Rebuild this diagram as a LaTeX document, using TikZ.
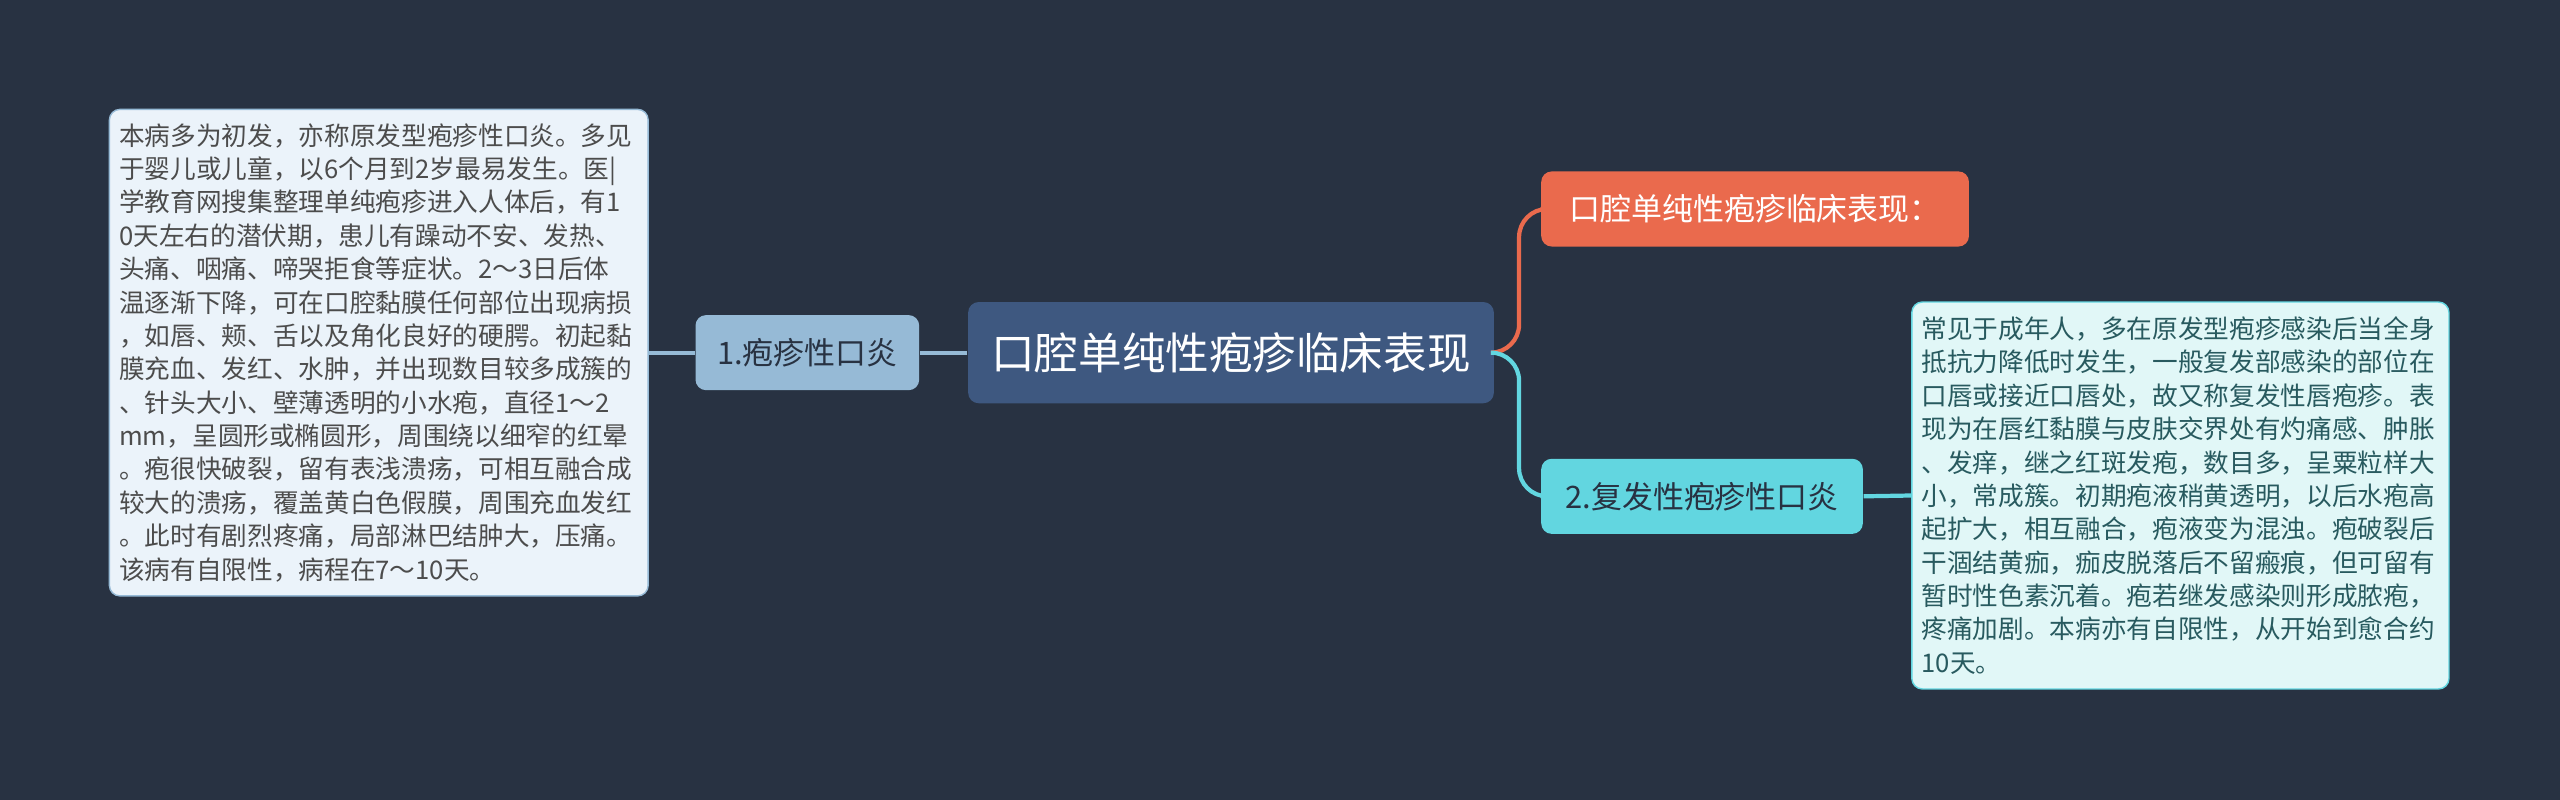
\documentclass[tikz,border=0pt]{standalone}
\usepackage{fontspec}
\setmainfont{Noto Sans CJK SC}
\usetikzlibrary{positioning}
\definecolor{bgc}{RGB}{40,50,66}
\definecolor{rootc}{RGB}{62,88,128}
\definecolor{lbluec}{RGB}{150,186,214}
\definecolor{lleafc}{RGB}{235,243,250}
\definecolor{orangec}{RGB}{234,106,77}
\definecolor{cyanc}{RGB}{98,214,224}
\definecolor{rleafc}{RGB}{225,247,247}
\definecolor{tealtext}{RGB}{40,90,95}
\newcommand{\px}{0.01633cm}
\tikzset{
  box/.style={rounded corners=3pt, inner sep=0pt, align=center},
  leaf/.style={rounded corners=3pt, inner sep=0pt, align=left, font=\fontsize{7.3}{9.5}\selectfont},
}
\begin{document}
\begin{tikzpicture}[x=\px,y=-\px]
	\fill[bgc] (0,0) rectangle (1568,490);
	\useasboundingbox (0,0) rectangle (1568,490);
	% nodes
	\node[box,fill=rootc,text=white,minimum width=322*\px,minimum height=62*\px,font=\fontsize{12.4}{14}\selectfont] (root) at (754,216) {口腔单纯性疱疹临床表现};
	\node[box,fill=lbluec,text=bgc,minimum width=137*\px,minimum height=46*\px,font=\fontsize{8.8}{10}\selectfont] (herp) at (494.5,216) {1.疱疹性口炎};
	\node[leaf,fill=lleafc,draw=lbluec,text=black!70,minimum width=330*\px,minimum height=298*\px,text width=318*\px] (herpleaf) at (232,216) {本病多为初发，亦称原发型疱疹性口炎。多见\\于婴儿或儿童，以6个月到2岁最易发生。医|\\学教育网搜集整理单纯疱疹进入人体后，有1\\0天左右的潜伏期，患儿有躁动不安、发热、\\头痛、咽痛、啼哭拒食等症状。2～3日后体\\温逐渐下降，可在口腔黏膜任何部位出现病损\\，如唇、颊、舌以及角化良好的硬腭。初起黏\\膜充血、发红、水肿，并出现数目较多成簇的\\、针头大小、壁薄透明的小水疱，直径1～2\\mm，呈圆形或椭圆形，周围绕以细窄的红晕\\。疱很快破裂，留有表浅溃疡，可相互融合成\\较大的溃疡，覆盖黄白色假膜，周围充血发红\\。此时有剧烈疼痛，局部淋巴结肿大，压痛。\\该病有自限性，病程在7～10天。};
	\node[box,fill=orangec,text=white,minimum width=262*\px,minimum height=46*\px,font=\fontsize{8.8}{10}\selectfont] (clin) at (1075,128) {口腔单纯性疱疹临床表现：};
	\node[box,fill=cyanc,text=bgc,minimum width=197*\px,minimum height=46*\px,font=\fontsize{8.8}{10}\selectfont] (recur) at (1042.5,304) {2.复发性疱疹性口炎};
	\node[leaf,fill=rleafc,draw=cyanc,text=tealtext,minimum width=329*\px,minimum height=237*\px,text width=317*\px] (recurleaf) at (1335.5,303.5) {常见于成年人，多在原发型疱疹感染后当全身\\抵抗力降低时发生，一般复发部感染的部位在\\口唇或接近口唇处，故又称复发性唇疱疹。表\\现为在唇红黏膜与皮肤交界处有灼痛感、肿胀\\、发痒，继之红斑发疱，数目多，呈粟粒样大\\小，常成簇。初期疱液稍黄透明，以后水疱高\\起扩大，相互融合，疱液变为混浊。疱破裂后\\干涸结黄痂，痂皮脱落后不留瘢痕，但可留有\\暂时性色素沉着。疱若继发感染则形成脓疱，\\疼痛加剧。本病亦有自限性，从开始到愈合约\\10天。};
	% connectors
	\draw[lbluec,line width=1.2pt] (root.west) -- (herp.east);
	\draw[lbluec,line width=1.2pt] (herp.west) -- (herpleaf.east);
	\draw[orangec,line width=1.2pt,rounded corners=8pt] (root.east) -- ++(15,0) |- (clin.west);
	\draw[cyanc,line width=1.2pt,rounded corners=8pt] (root.east) -- ++(15,0) |- (recur.west);
	\draw[cyanc,line width=1.2pt] (recur.east) -- (recurleaf.west);
\end{tikzpicture}
\end{document}
